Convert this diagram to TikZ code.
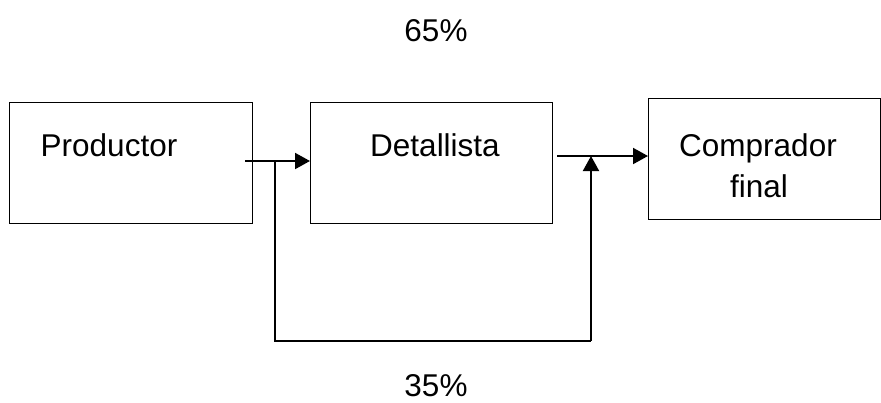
\documentclass[tikz,border=0pt]{standalone}
\usepackage{fontspec}
\setmainfont{Liberation Sans}
\usetikzlibrary{arrows.meta}
\begin{document}
\begin{tikzpicture}[x=1pt,y=-1pt,
  box/.style={draw, line width=1.3pt, inner sep=0pt, anchor=north west},
  lbl/.style={font=\fontsize{31.5}{36}\selectfont, anchor=base, inner sep=0pt},
  conn/.style={line width=2pt},
  arr/.style={conn, -{Triangle[length=15pt,width=16pt]}}]
\useasboundingbox (0,0) rectangle (881,402);
\node[box, minimum width=243pt, minimum height=121pt] (prod) at (9,102) {};
\node[box, minimum width=242pt, minimum height=121pt] (det) at (310,102) {};
\node[box, minimum width=232pt, minimum height=121pt] (comp) at (648,98) {};
\node[lbl] (tprod) at (109,156.5) {Productor};
\node[lbl] (tdet) at (435,156) {Detallista};
\node[lbl] (tcomp1) at (758,156.5) {Comprador};
\node[lbl] (tcomp2) at (759,197) {final};
\node[lbl] (p65) at (436,41) {65\%};
\node[lbl] (p35) at (436,396) {35\%};
\coordinate (a1s) at (245,161);
\coordinate (j1) at (275,161);
\coordinate (b1) at (275,341);
\coordinate (b2) at (591,341);
\coordinate (j2) at (591,156);
\coordinate (a2s) at (557,156);
\draw[arr] (a1s) -- (a1s -| det.west);
\draw[arr] (a2s) -- (a2s -| comp.west);
\draw[conn] (j1) -- (b1) -- (b2);
\draw[arr] (b2) -- (j2);
\end{tikzpicture}
\end{document}
